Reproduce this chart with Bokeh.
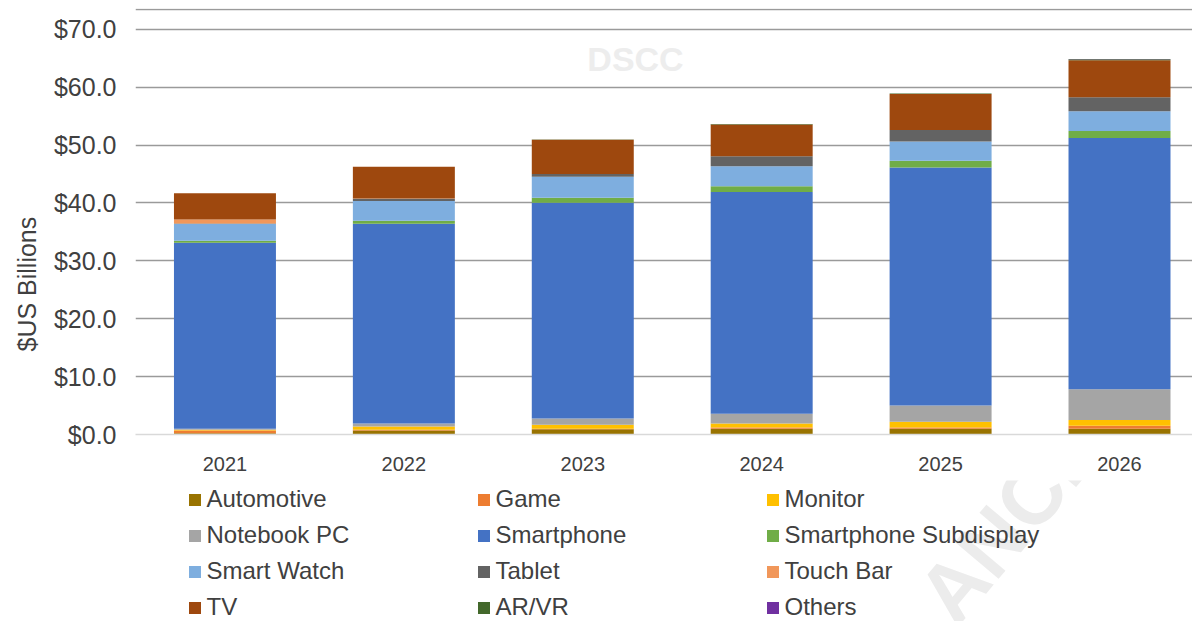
from bokeh.plotting import figure
from bokeh.layouts import column
from bokeh.models import (ColumnDataSource, Range1d, FixedTicker, NumeralTickFormatter,
                          Legend, LegendItem, Span, Label, Title)
from bokeh.embed import file_html
from bokeh.resources import INLINE

years = ["2021", "2022", "2023", "2024", "2025", "2026"]
segments = ["Automotive", "Game", "Monitor", "Notebook PC", "Smartphone",
            "Smartphone Subdisplay", "Smart Watch", "Tablet", "Touch Bar", "TV",
            "AR/VR", "Others"]
automotive = [0.2, 0.7, 0.9, 1.0, 1.0, 1.0]
game = [0.5, 0.1, 0.1, 0.2, 0.2, 0.5]
monitor = [0.1, 0.6, 0.7, 0.7, 1.0, 1.0]
notebook_pc = [0.2, 0.5, 1.05, 1.7, 2.8, 5.3]
smartphone = [32.1, 34.5, 37.3, 38.3, 41.1, 43.4]
smartphone_subdisplay = [0.35, 0.5, 0.85, 1.0, 1.2, 1.2]
smart_watch = [2.9, 3.45, 3.6, 3.45, 3.3, 3.45]
tablet = [0.1, 0.35, 0.5, 1.7, 2.0, 2.4]
touch_bar = [0.7, 0.05, 0.0, 0.0, 0.0, 0.0]
tv = [4.5, 5.5, 5.9, 5.5, 6.2, 6.4]
ar_vr = [0.0, 0.0, 0.05, 0.1, 0.1, 0.15]
others = [0.0, 0.0, 0.0, 0.0, 0.0, 0.05]
y_ticks = [0, 10, 20, 30, 40, 50, 60, 70]

series = [automotive, game, monitor, notebook_pc, smartphone, smartphone_subdisplay,
          smart_watch, tablet, touch_bar, tv, ar_vr, others]
colors = ["#997300", "#ED7D31", "#FFC000", "#A5A5A5", "#4472C4", "#70AD47",
          "#7EAEDF", "#636363", "#F1975A", "#9E480E", "#43682B", "#7030A0"]

FONT = "Liberation Sans"
TXT = "#404040"

data = {"x": list(range(len(years)))}
for name, vals in zip(segments, series):
    data[name] = vals
src = ColumnDataSource(data)

# ---------------- chart ----------------
p = figure(width=1192, height=480, output_backend="svg", toolbar_location=None,
           x_range=Range1d(-0.5, 5.408), y_range=Range1d(0, 73.58),
           min_border_left=135, min_border_right=0, min_border_top=8,
           min_border_bottom=46)
p.outline_line_color = None
p.background_fill_color = "white"
p.border_fill_color = "white"

renderers = p.vbar_stack(segments, x="x", width=0.57, color=colors, source=src,
                         line_width=0)

p.xaxis.ticker = FixedTicker(ticks=list(range(len(years))))
p.xaxis.major_label_overrides = {i: y for i, y in enumerate(years)}
p.xaxis.major_tick_line_color = None
p.xaxis.minor_tick_line_color = None
p.xaxis.axis_line_color = "#d9d9d9"
p.xaxis.axis_line_width = 1.5
p.xaxis.major_label_text_font = FONT
p.xaxis.major_label_text_font_size = "20px"
p.xaxis.major_label_text_color = TXT
p.xaxis.major_label_standoff = 16

p.yaxis.ticker = FixedTicker(ticks=y_ticks)
p.yaxis.formatter = NumeralTickFormatter(format="$0.0")
p.yaxis.major_tick_line_color = None
p.yaxis.minor_tick_line_color = None
p.yaxis.axis_line_color = None
p.yaxis.major_label_text_font = FONT
p.yaxis.major_label_text_font_size = "25px"
p.yaxis.major_label_text_color = TXT
p.yaxis.major_label_standoff = 13

p.xgrid.grid_line_color = None
p.ygrid.ticker = FixedTicker(ticks=y_ticks[1:])
p.ygrid.grid_line_color = "#9a9a9a"
p.ygrid.grid_line_width = 1.5

p.add_layout(Span(location=73.4, dimension="width", line_color="#9a9a9a", line_width=1.5))

p.add_layout(Title(text="$US Billions", align="left", offset=83, standoff=20,
                   text_font=FONT, text_font_size="25px", text_font_style="normal",
                   text_color=TXT), "left")

p.add_layout(Label(x=500, y=376, x_units="screen", y_units="screen", text="DSCC",
                   text_align="center", text_baseline="middle", text_font=FONT,
                   text_font_style="bold", text_font_size="34px", text_color="#ededed"))

# ---------------- legend strip ----------------
q = figure(width=1192, height=141, output_backend="svg", toolbar_location=None,
           x_range=Range1d(-100, -99), y_range=Range1d(0, 1), x_axis_type=None,
           y_axis_type=None, min_border=0)
q.outline_line_color = None
q.background_fill_color = "white"
q.border_fill_color = "white"

# same stacked series, kept out of view; used only for the legend swatches
leg_renderers = q.vbar_stack(segments, x="x", width=0.57, color=colors, source=src,
                             line_width=0)

q.add_layout(Label(x=875, y=101, x_units="screen", y_units="screen", text="ANCE",
                   angle=0.87, text_align="center", text_baseline="middle",
                   text_font=FONT, text_font_style="bold", text_font_size="83px",
                   text_color="#ececec"))

col_x = [51.5, 340.5, 629.5]
for c in range(3):
    items = [LegendItem(label=segments[r * 3 + c], renderers=[leg_renderers[r * 3 + c]])
             for r in range(4)]
    q.add_layout(Legend(items=items, location=(col_x[c], 0), orientation="vertical",
                        border_line_color=None, background_fill_alpha=0, padding=0,
                        margin=0, spacing=8, glyph_width=15, glyph_height=15,
                        label_standoff=5, label_height=28,
                        label_text_font=FONT, label_text_font_size="24px",
                        label_text_color=TXT))

open("out.html", "w").write(file_html(column(p, q), INLINE))
